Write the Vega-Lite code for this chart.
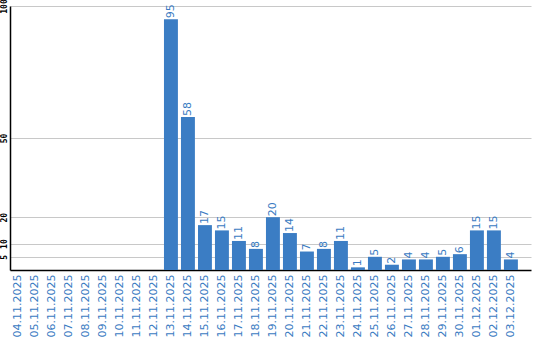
{
  "$schema": "https://vega.github.io/schema/vega-lite/v6.json",
  "autosize": {"type": "none"},
  "width": 521,
  "height": 264,
  "padding": {"top": 6, "left": 10, "right": 9, "bottom": 70},
  "background": "white",
  "config": {"view": {"stroke": null}},
  "data": {"values": [
    {"date": "04.11.2025", "value": 0},
    {"date": "05.11.2025", "value": 0},
    {"date": "06.11.2025", "value": 0},
    {"date": "07.11.2025", "value": 0},
    {"date": "08.11.2025", "value": 0},
    {"date": "09.11.2025", "value": 0},
    {"date": "10.11.2025", "value": 0},
    {"date": "11.11.2025", "value": 0},
    {"date": "12.11.2025", "value": 0},
    {"date": "13.11.2025", "value": 95},
    {"date": "14.11.2025", "value": 58},
    {"date": "15.11.2025", "value": 17},
    {"date": "16.11.2025", "value": 15},
    {"date": "17.11.2025", "value": 11},
    {"date": "18.11.2025", "value": 8},
    {"date": "19.11.2025", "value": 20},
    {"date": "20.11.2025", "value": 14},
    {"date": "21.11.2025", "value": 7},
    {"date": "22.11.2025", "value": 8},
    {"date": "23.11.2025", "value": 11},
    {"date": "24.11.2025", "value": 1},
    {"date": "25.11.2025", "value": 5},
    {"date": "26.11.2025", "value": 2},
    {"date": "27.11.2025", "value": 4},
    {"date": "28.11.2025", "value": 4},
    {"date": "29.11.2025", "value": 5},
    {"date": "30.11.2025", "value": 6},
    {"date": "01.12.2025", "value": 15},
    {"date": "02.12.2025", "value": 15},
    {"date": "03.12.2025", "value": 4}
  ]},
  "encoding": {
    "x": {
      "field": "date", "type": "nominal", "sort": null,
      "scale": {"paddingInner": 0.18, "paddingOuter": 0.415, "align": 0.07},
      "axis": {
        "title": null, "ticks": false, "labelAngle": 270, "labelPadding": 4,
        "labelFont": "DejaVu Sans", "labelFontSize": 11, "labelColor": "#3a7bc2",
        "labelOverlap": false, "domainColor": "#000000", "domainWidth": 1.5, "grid": false
      }
    },
    "y": {
      "field": "value", "type": "quantitative",
      "scale": {"domain": [0, 100], "nice": false},
      "axis": {
        "title": null, "ticks": false, "values": [5, 10, 20, 50, 100],
        "labelAngle": 270, "labelAlign": "center", "labelBaseline": "bottom", "labelPadding": 2,
        "labelFont": "DejaVu Sans Mono", "labelFontSize": 8, "labelFontWeight": "bold", "labelColor": "#000000",
        "domainColor": "#000000", "domainWidth": 1.5,
        "grid": true, "gridColor": "#c8c8c8", "gridWidth": 1, "labelOverlap": false
      }
    }
  },
  "layer": [
    {"mark": {"type": "bar", "color": "#3b7dc4"}},
    {
      "transform": [{"filter": "datum.value > 0"}],
      "mark": {"type": "text", "angle": 270, "align": "left", "baseline": "middle", "dx": 1,
               "font": "DejaVu Sans", "fontSize": 11, "color": "#3a7bc2"},
      "encoding": {"text": {"field": "value", "type": "quantitative"}}
    }
  ]
}
